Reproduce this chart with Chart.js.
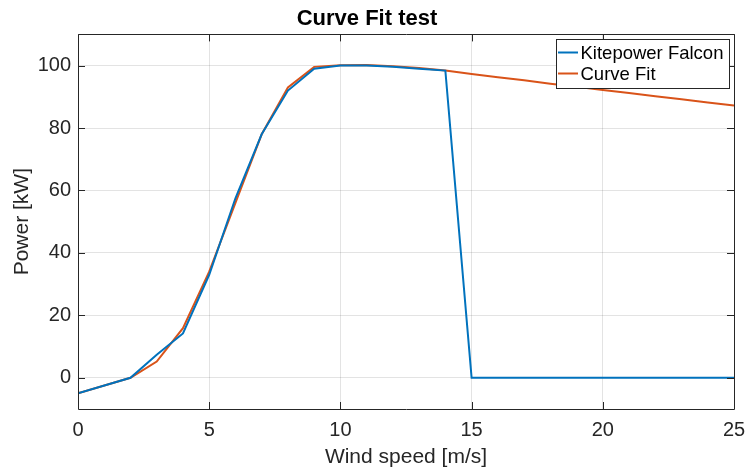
<!DOCTYPE html>
<html>
<head>
<meta charset="utf-8">
<script src="https://cdn.jsdelivr.net/npm/chart.js@4/dist/chart.umd.min.js"></script>
<style>
html,body{margin:0;padding:0;background:#fff;}
#wrap{width:745px;height:470px;}
</style>
</head>
<body>
<div id="wrap"><canvas id="c" width="745" height="470"></canvas></div>
<script>
const chartTitle = "Curve Fit test";
const xLabel = "Wind speed [m/s]";
const yLabel = "Power [kW]";
const seriesNames = ["Kitepower Falcon", "Curve Fit"];
const windSpeed = [0, 2, 3, 4, 5, 6, 7, 8, 9, 10, 11, 12, 13, 14, 15, 16, 17, 18, 19, 20, 21, 22, 23, 24, 25];
const kitepower = [-5, 0, 7.4, 14.2, 33, 57.5, 78, 92, 99, 100, 100, 99.6, 99, 98.4, 0, 0, 0, 0, 0, 0, 0, 0, 0, 0, 0];
const curveFit  = [-5, 0, 5.2, 15.9, 34, 56, 78, 93, 99.6, 100.1, 100.2, 99.8, 99.2, 98.4, 97.3, 96.3, 95.3, 94.2, 93.2, 92.2, 91.2, 90.2, 89.2, 88.2, 87.2];
const xTicks = [0, 5, 10, 15, 20, 25];
const yTicks = [0, 20, 40, 60, 80, 100];
const colors = ["#0072BD", "#D95319"];

const FONT = "'Liberation Sans', Arial, Helvetica, sans-serif";
const TXT = "#262626";

const boxPlugin = {
  id: 'boxPlugin',
  afterDatasetsDraw(chart) {
    const {ctx, chartArea: a, scales} = chart;
    ctx.save();
    ctx.strokeStyle = TXT;
    ctx.lineWidth = 1;
    ctx.beginPath();
    ctx.rect(Math.round(a.left) + 0.5, Math.round(a.top) + 0.5, Math.round(a.right - a.left), Math.round(a.bottom - a.top));
    ctx.stroke();
    const tl = 7;
    ctx.beginPath();
    xTicks.forEach(v => {
      const x = Math.round(scales.x.getPixelForValue(v)) + 0.5;
      ctx.moveTo(x, a.bottom); ctx.lineTo(x, a.bottom - tl);
      ctx.moveTo(x, a.top); ctx.lineTo(x, a.top + tl);
    });
    yTicks.forEach(v => {
      const y = Math.round(scales.y.getPixelForValue(v)) + 0.5;
      ctx.moveTo(a.left, y); ctx.lineTo(a.left + tl, y);
      ctx.moveTo(a.right, y); ctx.lineTo(a.right - tl, y);
    });
    ctx.stroke();
    // legend
    const lx = 556.5, ly = 39.5, lw = 173, lh = 49;
    ctx.fillStyle = '#fff';
    ctx.fillRect(lx, ly, lw, lh);
    ctx.strokeStyle = TXT;
    ctx.strokeRect(lx, ly, lw, lh);
    ctx.font = "18.5px " + FONT;
    ctx.textBaseline = 'middle';
    ctx.textAlign = 'left';
    seriesNames.forEach((n, i) => {
      const yy = 52.5 + i * 21;
      ctx.strokeStyle = colors[i];
      ctx.lineWidth = 2;
      ctx.beginPath(); ctx.moveTo(558, yy); ctx.lineTo(578, yy); ctx.stroke();
      ctx.fillStyle = '#000';
      ctx.fillText(n, 580.5, yy + 1);
    });
    ctx.restore();
  }
};

new Chart(document.getElementById('c'), {
  type: 'line',
  data: {
    datasets: [
      { label: seriesNames[0], data: windSpeed.map((x, i) => ({x, y: kitepower[i]})), borderColor: colors[0], backgroundColor: colors[0], borderWidth: 2, pointRadius: 0, tension: 0, fill: false },
      { label: seriesNames[1], data: windSpeed.map((x, i) => ({x, y: curveFit[i]})), borderColor: colors[1], backgroundColor: colors[1], borderWidth: 2, pointRadius: 0, tension: 0, fill: false }
    ]
  },
  options: {
    responsive: false,
    animation: false,
    layout: { padding: { left: 0, right: 11, top: 0, bottom: 0 } },
    plugins: {
      legend: { display: false },
      tooltip: { enabled: false },
      title: {
        display: true, text: chartTitle, color: '#000',
        font: { family: FONT, size: 22, weight: 'bold', lineHeight: 1.2 },
        padding: { top: 6, bottom: 2 }
      }
    },
    scales: {
      x: {
        type: 'linear', min: 0, max: 25,
        afterBuildTicks: s => { s.ticks = xTicks.map(v => ({value: v})); },
        afterFit: s => { s.height = 61; s.paddingLeft = 0; s.paddingRight = 0; },
        grid: { color: 'rgba(38,38,38,0.13)', drawTicks: false },
        border: { display: false },
        ticks: { color: TXT, font: { family: FONT, size: 20 }, padding: 9, maxRotation: 0 },
        title: { display: true, text: xLabel, color: TXT, font: { family: FONT, size: 21 }, padding: { top: 0, bottom: 0 } }
      },
      y: {
        type: 'linear', min: -10, max: 110,
        afterBuildTicks: s => { s.ticks = yTicks.map(v => ({value: v})); },
        afterFit: s => { s.width = 78; s.paddingTop = 0; s.paddingBottom = 0; },
        grid: { color: 'rgba(38,38,38,0.13)', drawTicks: false },
        border: { display: false },
        ticks: { color: TXT, font: { family: FONT, size: 20 }, padding: 7 },
        title: { display: true, text: yLabel, color: TXT, font: { family: FONT, size: 21 }, padding: { top: 10, bottom: 0 } }
      }
    }
  },
  plugins: [boxPlugin]
});
</script>
</body>
</html>
